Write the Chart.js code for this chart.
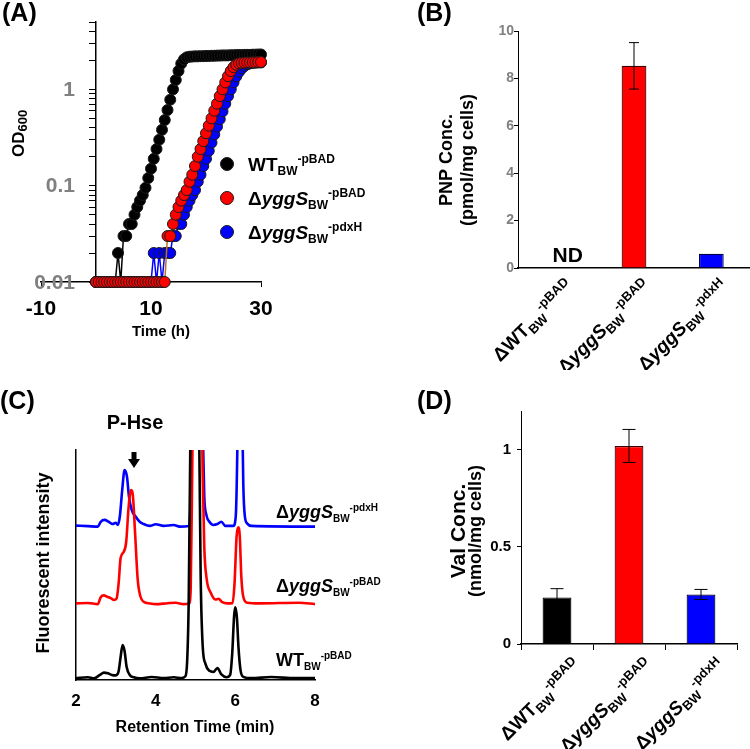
<!DOCTYPE html>
<html>
<head>
<meta charset="utf-8">
<title>Growth, PNP, P-Hse and Val</title>
<script src="https://cdn.jsdelivr.net/npm/chart.js@4.4.1/dist/chart.umd.min.js"></script>
<style>
  html, body { margin: 0; padding: 0; background: #fff; }
  #wrap { position: relative; width: 750px; height: 749px; overflow: hidden; }
  canvas { position: absolute; }
</style>
</head>
<body>
<div id="wrap">
  <canvas id="chartA" width="375" height="345" style="left:0;top:0"></canvas>
  <canvas id="chartB" width="375" height="370" style="left:375px;top:0"></canvas>
  <canvas id="chartC" width="390" height="379" style="left:0;top:370px"></canvas>
  <canvas id="chartD" width="375" height="379" style="left:375px;top:370px"></canvas>
</div>
<script>
const FONT = '"Liberation Sans", Arial, Helvetica, sans-serif';
const GREY = '#808080';

// strains (legend / categories)
const strainNames = ['WT', 'yggS', 'yggS'];
const strainPlasmids = ['-pBAD', '-pBAD', '-pdxH'];
const strainColors = ['#000000', '#ff0000', '#0000ff'];

// (A) growth curves, OD600 every 30 min
const growthTime = [0, 0.5, 1, 1.5, 2, 2.5, 3, 3.5, 4, 4.5, 5, 5.5, 6, 6.5, 7, 7.5, 8, 8.5, 9, 9.5,
  10, 10.5, 11, 11.5, 12, 12.5, 13, 13.5, 14, 14.5, 15, 15.5, 16, 16.5, 17, 17.5, 18, 18.5, 19, 19.5,
  20, 20.5, 21, 21.5, 22, 22.5, 23, 23.5, 24, 24.5, 25, 25.5, 26, 26.5, 27, 27.5, 28, 28.5, 29, 29.5, 30];
const odWT = [0.01, 0.01, 0.01, 0.01, 0.01, 0.01, 0.01, 0.01,
  0.02, 0.01, 0.03, 0.03, 0.04, 0.04, 0.05, 0.06, 0.07, 0.08,
  0.095, 0.12, 0.15, 0.19, 0.24, 0.3, 0.38, 0.48, 0.61, 0.78,
  1.0, 1.25, 1.55, 1.85, 2.05, 2.15, 2.18, 2.19, 2.2, 2.2,
  2.21, 2.21, 2.22, 2.22, 2.23, 2.23, 2.24, 2.24, 2.25, 2.25,
  2.25, 2.26, 2.26, 2.27, 2.27, 2.27, 2.28, 2.28, 2.28, 2.29,
  2.29, 2.3, 2.3];
const odYggS = [0.01, 0.01, 0.01, 0.01, 0.01, 0.01, 0.01, 0.01, 0.01, 0.01,
  0.01, 0.01, 0.01, 0.01, 0.01, 0.01, 0.01, 0.01, 0.01, 0.01,
  0.01, 0.01, 0.01, 0.01, 0.01, 0.01,
  0.03, 0.03, 0.04, 0.05, 0.06, 0.07, 0.08, 0.09, 0.11, 0.13,
  0.16, 0.2, 0.24, 0.29, 0.35, 0.42, 0.5, 0.6, 0.71, 0.85,
  1.0, 1.18, 1.37, 1.55, 1.7, 1.8, 1.86, 1.88, 1.89, 1.9,
  1.9, 1.91, 1.91, 1.92, 1.92];
const odYggSPdxH = [0.01, 0.01, 0.01, 0.01, 0.01, 0.01, 0.01, 0.01, 0.01, 0.01,
  0.01, 0.01, 0.01, 0.01, 0.01, 0.01, 0.01, 0.01, 0.01, 0.01, 0.01,
  0.02, 0.01, 0.02, 0.01, 0.02, 0.02, 0.02, 0.03, 0.03, 0.04,
  0.04, 0.05, 0.06, 0.07, 0.08, 0.09, 0.11, 0.13, 0.16, 0.19,
  0.23, 0.28, 0.34, 0.41, 0.49, 0.59, 0.71, 0.85, 1.0, 1.18,
  1.36, 1.52, 1.65, 1.75, 1.82, 1.86, 1.88, 1.89, 1.9, 1.9];
const odDecades = [0.01, 0.1, 1];
const odTickLabels = ['0.01', '0.1', '1'];
const odMultipliers = [1, 2, 3, 4, 5, 6, 7, 8, 9];
const odMax = 5;

// (B) PNP
const pnpValues = [null, 8.53, 0.6];
const pnpErrors = [null, 0.98, null];

// (C) chromatograms
const cTimeWT = [2.0, 2.3, 2.45, 2.6, 2.7, 2.8, 2.9, 3.0, 3.07, 3.12, 3.17, 3.22, 3.27, 3.35, 3.45, 3.6,
  3.9, 4.2, 4.45, 4.65, 4.74, 4.79, 4.83, 4.88, 4.95, 5.02, 5.08, 5.13, 5.18, 5.25, 5.35, 5.45,
  5.55, 5.65, 5.78, 5.87, 5.92, 5.97, 6.0, 6.04, 6.08, 6.13, 6.2, 6.4, 6.9, 7.5, 8.0];
const cWT = [0.8, 1.2, 0.7, 2.2, 3.2, 2.9, 2.2, 2.0, 3.8, 10, 15.2, 12.5, 5.8, 2.2, 1.2, 0.7,
  1.3, 0.8, 1.2, 0.8, 1.5, 8, 35, 120, 220, 220, 130, 45, 15, 7, 4, 3.5,
  5.2, 2.4, 1.2, 2.2, 11, 28, 31.6, 27, 14, 4.3, 1.4, 0.8, 1.3, 0.8, 0.8];
const cTimeYggS = [2.0, 2.3, 2.55, 2.62, 2.7, 2.78, 2.88, 2.95, 3.02, 3.07, 3.12, 3.2, 3.26, 3.32, 3.38, 3.43,
  3.48, 3.55, 3.62, 3.7, 3.85, 4.0, 4.3, 4.5, 4.7, 4.84, 4.88, 4.92, 4.98, 5.05, 5.12, 5.18,
  5.22, 5.28, 5.38, 5.5, 5.58, 5.66, 5.8, 5.93, 5.98, 6.03, 6.07, 6.11, 6.15, 6.2, 6.3, 6.6, 7.6, 8.0];
const cYggS = [33.3, 33.5, 33.0, 36.0, 36.8, 36.2, 35.5, 34.8, 35.5, 42, 53, 55.8, 60, 75, 82.6, 79.7,
  65, 43.5, 36.2, 34, 33.3, 33.0, 33.4, 33.6, 33.0, 33.3, 40, 95, 180, 200, 170, 90,
  58, 44, 38, 35, 35.3, 34, 33.3, 33.4, 42, 62, 66.4, 63, 45, 36.2, 33.6, 33.3, 33.6, 33.0];
const cTimePdxH = [2.0, 2.3, 2.55, 2.62, 2.72, 2.82, 2.92, 3.0, 3.05, 3.1, 3.16, 3.22, 3.28, 3.33, 3.4, 3.5,
  3.6, 3.7, 3.85, 4.0, 4.2, 4.45, 4.6, 4.84, 4.87, 4.9, 4.98, 5.05, 5.12, 5.18, 5.22, 5.27,
  5.35, 5.45, 5.55, 5.65, 5.75, 5.95, 6.01, 6.05, 6.09, 6.13, 6.17, 6.2, 6.24, 6.3, 6.4, 8.0];
const cPdxH = [67.1, 66.9, 66.7, 68.8, 69.6, 68.8, 67.8, 68.4, 67.4, 71, 82.6, 91.3, 88.4, 79.7, 73.9, 71,
  68.8, 67.8, 67, 67.7, 67, 67.4, 66.7, 67, 75, 110, 200, 220, 180, 110, 80, 72,
  68.8, 67.4, 67.8, 68.8, 67, 67, 71, 100, 160, 175, 120, 85, 71, 68, 67, 66.7];

// (D) Val
const valValues = [0.24, 1.02, 0.255];
const valErrors = [0.045, 0.085, 0.026];

// ---------- helpers ----------
function strainParts(delta, name, plasmid) {
  const parts = [];
  if (delta) parts.push({ text: '\u0394' });
  parts.push({ text: name, italic: name !== 'WT' });
  parts.push({ text: 'BW', shift: 'sub' });
  parts.push({ text: plasmid, shift: 'sup' });
  return parts;
}

function partFont(p, size, small) {
  return (p.italic ? 'italic ' : '') + 'bold ' + (p.shift ? small : size) + 'px ' + FONT;
}

function richWidth(ctx, parts, size, small) {
  let w = 0;
  parts.forEach(p => { ctx.font = partFont(p, size, small); w += ctx.measureText(p.text).width; });
  return w;
}

function drawRich(ctx, parts, x, y, size, small, align) {
  let cx = align === 'right' ? x - richWidth(ctx, parts, size, small) : x;
  ctx.textAlign = 'left';
  ctx.textBaseline = 'alphabetic';
  parts.forEach(p => {
    ctx.font = partFont(p, size, small);
    let dy = 0;
    if (p.shift === 'sub') dy = size * 0.22;
    if (p.shift === 'sup') dy = -size * 0.4;
    ctx.fillText(p.text, cx, y + dy);
    cx += ctx.measureText(p.text).width;
  });
}

function panelLetter(ctx, letter, x, y) {
  ctx.fillStyle = '#000';
  ctx.font = 'bold 25px ' + FONT;
  ctx.textAlign = 'left';
  ctx.textBaseline = 'alphabetic';
  ctx.fillText(letter, x, y);
}

function rotatedText(ctx, text, x, y, size) {
  ctx.save();
  ctx.translate(x, y);
  ctx.rotate(-Math.PI / 2);
  ctx.font = 'bold ' + size + 'px ' + FONT;
  ctx.textAlign = 'center';
  ctx.textBaseline = 'alphabetic';
  ctx.fillText(text, 0, 0);
  ctx.restore();
}

function fixSize(prop, size) {
  return scale => {
    scale[prop] = size;
    scale.paddingLeft = 0; scale.paddingRight = 0;
    scale.paddingTop = 0; scale.paddingBottom = 0;
  };
}

function errorBars(errors, cap) {
  return {
    id: 'errorBars',
    afterDatasetsDraw(chart) {
      const ctx = chart.ctx;
      const ys = chart.scales.y;
      const meta = chart.getDatasetMeta(0);
      const values = chart.data.datasets[0].data;
      ctx.save();
      ctx.strokeStyle = '#000';
      ctx.lineWidth = 1;
      errors.forEach((e, i) => {
        if (e == null || values[i] == null) return;
        const x = meta.data[i].x;
        const top = ys.getPixelForValue(values[i] + e);
        const bot = ys.getPixelForValue(values[i] - e);
        ctx.beginPath();
        ctx.moveTo(x, top); ctx.lineTo(x, bot);
        ctx.moveTo(x - cap, top); ctx.lineTo(x + cap, top);
        ctx.moveTo(x - cap, bot); ctx.lineTo(x + cap, bot);
        ctx.stroke();
      });
      ctx.restore();
    }
  };
}

function barLabels(chart, dx, dy, size, small) {
  const ctx = chart.ctx;
  const xs = chart.scales.x;
  const base = chart.chartArea.bottom;
  ctx.fillStyle = '#000';
  strainNames.forEach((name, i) => {
    ctx.save();
    ctx.translate(xs.getPixelForValue(i) + dx, base + dy);
    ctx.rotate(-Math.PI / 4);
    drawRich(ctx, strainParts(true, name, strainPlasmids[i]), 0, 0, size, small, 'right');
    ctx.restore();
  });
}

const noExtras = { legend: { display: false }, tooltip: { enabled: false } };

// ---------- (A) ----------
const odTicks = [];
odDecades.forEach(d => odMultipliers.forEach(m => {
  const v = +(d * m).toPrecision(3);
  if (v <= odMax) odTicks.push(v);
}));

const growthSets = [odWT, odYggS, odYggSPdxH];
const growthLines = ['#000000', '#b8702a', '#0000ff'];

new Chart(document.getElementById('chartA'), {
  type: 'line',
  data: {
    datasets: growthSets.map((set, i) => ({
      data: growthTime.map((t, k) => ({ x: t, y: set[k] })),
      borderColor: growthLines[i],
      borderWidth: 1.5,
      backgroundColor: strainColors[i],
      pointBackgroundColor: strainColors[i],
      pointBorderColor: '#1a1a1a',
      pointBorderWidth: 1,
      pointRadius: 5.5,
      tension: 0,
      clip: false,
      order: [2, 0, 1][i]
    }))
  },
  options: {
    responsive: false,
    animation: false,
    devicePixelRatio: 1,
    layout: { padding: { left: 41, right: 114, top: 22, bottom: 0 } },
    plugins: noExtras,
    scales: {
      x: {
        type: 'linear', min: -10, max: 30,
        afterFit: fixSize('height', 63),
        border: { color: '#000', width: 1.5 },
        grid: { drawOnChartArea: false, tickLength: 5, color: '#000' },
        ticks: { stepSize: 20, padding: 10, color: '#000', font: { family: FONT, size: 21, weight: 'bold' } }
      },
      y: {
        type: 'logarithmic', min: 0.01, max: odMax,
        position: { x: 0 },
        afterFit: fixSize('width', 10),
        afterBuildTicks: scale => { scale.ticks = odTicks.map(v => ({ value: v })); },
        border: { color: '#000', width: 1.5 },
        grid: { drawOnChartArea: false, tickLength: 6, color: '#000' },
        ticks: { display: false }
      }
    }
  },
  plugins: [{
    id: 'panelA',
    afterDraw(chart) {
      const ctx = chart.ctx;
      const xs = chart.scales.x;
      const ys = chart.scales.y;
      const axisX = xs.getPixelForValue(0);
      ctx.save();
      // log tick labels
      ctx.fillStyle = GREY;
      ctx.font = 'bold 21px ' + FONT;
      ctx.textAlign = 'right';
      ctx.textBaseline = 'middle';
      odDecades.forEach((v, i) => ctx.fillText(odTickLabels[i], axisX - 21, ys.getPixelForValue(v) + 1));
      // axis titles
      ctx.fillStyle = '#000';
      ctx.save();
      ctx.translate(19, 157);
      ctx.rotate(-Math.PI / 2);
      ctx.font = 'bold 17px ' + FONT;
      ctx.textAlign = 'left';
      ctx.fillText('OD', 0, 0);
      const w = ctx.measureText('OD').width;
      ctx.font = 'bold 13px ' + FONT;
      ctx.fillText('600', w, 4);
      ctx.restore();
      ctx.font = 'bold 15px ' + FONT;
      ctx.textAlign = 'center';
      ctx.textBaseline = 'alphabetic';
      ctx.fillText('Time (h)', 161, 336);
      // legend
      strainNames.forEach((name, i) => {
        const y = 164 + i * 34;
        ctx.beginPath();
        ctx.arc(227, y, 6.5, 0, Math.PI * 2);
        ctx.fillStyle = strainColors[i];
        ctx.fill();
        ctx.lineWidth = 1;
        ctx.strokeStyle = '#1a1a1a';
        ctx.stroke();
        ctx.fillStyle = '#000';
        drawRich(ctx, strainParts(i > 0, name, strainPlasmids[i]), 248, y + 7, 19, 12, 'left');
      });
      panelLetter(ctx, '(A)', 2, 21);
      ctx.restore();
    }
  }]
});

// ---------- (B) ----------
new Chart(document.getElementById('chartB'), {
  type: 'bar',
  data: {
    labels: strainNames.map((n, i) => '\u0394' + n + ' BW ' + strainPlasmids[i]),
    datasets: [{
      data: pnpValues,
      backgroundColor: strainColors,
      borderColor: ['#000', '#3a0000', '#00003a'],
      borderWidth: 1.2,
      barPercentage: 0.32,
      categoryPercentage: 1
    }]
  },
  options: {
    responsive: false,
    animation: false,
    devicePixelRatio: 1,
    layout: { padding: { left: 0, right: 0, top: 31, bottom: 0 } },
    plugins: noExtras,
    scales: {
      x: {
        afterFit: fixSize('height', 102),
        border: { color: '#000', width: 1.5 },
        grid: { display: false },
        ticks: { display: false }
      },
      y: {
        min: 0, max: 10,
        afterFit: fixSize('width', 143),
        border: { color: '#000', width: 1 },
        grid: { drawOnChartArea: false, tickLength: 4, color: '#000' },
        ticks: { stepSize: 2, padding: 0, color: GREY, font: { family: FONT, size: 14, weight: 'bold' } }
      }
    }
  },
  plugins: [errorBars(pnpErrors, 5), {
    id: 'panelB',
    afterDraw(chart) {
      const ctx = chart.ctx;
      const xs = chart.scales.x;
      ctx.save();
      ctx.fillStyle = '#000';
      rotatedText(ctx, 'PNP Conc.', 77, 160, 18);
      rotatedText(ctx, '(pmol/mg cells)', 98, 160, 18);
      ctx.font = 'bold 21px ' + FONT;
      ctx.textAlign = 'center';
      ctx.textBaseline = 'alphabetic';
      ctx.fillText('ND', xs.getPixelForValue(0) + 11, 262);
      barLabels(chart, 18, 20, 19, 13);
      panelLetter(ctx, '(B)', 42, 21);
      ctx.restore();
    }
  }]
});

// ---------- (C) ----------
const chromSets = [[cTimeWT, cWT], [cTimeYggS, cYggS], [cTimePdxH, cPdxH]];

new Chart(document.getElementById('chartC'), {
  type: 'line',
  data: {
    datasets: chromSets.map((pair, i) => ({
      data: pair[0].map((t, k) => ({ x: t, y: pair[1][k] })),
      borderColor: strainColors[i],
      borderWidth: 2.6,
      pointRadius: 0,
      cubicInterpolationMode: 'monotone'
    }))
  },
  options: {
    responsive: false,
    animation: false,
    devicePixelRatio: 1,
    layout: { padding: { left: 0, right: 75, top: 80, bottom: 0 } },
    plugins: noExtras,
    scales: {
      x: {
        type: 'linear', min: 2, max: 8,
        afterFit: fixSize('height', 69),
        border: { color: '#000', width: 1.5 },
        grid: { display: false, drawTicks: false },
        ticks: { stepSize: 2, padding: 11, color: '#000', font: { family: FONT, size: 17, weight: 'bold' } }
      },
      y: {
        type: 'linear', min: 0, max: 100,
        afterFit: fixSize('width', 76),
        border: { color: '#000', width: 1.5 },
        grid: { display: false, drawTicks: false },
        ticks: { display: false }
      }
    }
  },
  plugins: [{
    id: 'panelC',
    afterDraw(chart) {
      const ctx = chart.ctx;
      ctx.save();
      ctx.fillStyle = '#000';
      rotatedText(ctx, 'Fluorescent intensity', 49, 193, 18);
      ctx.font = 'bold 16px ' + FONT;
      ctx.textAlign = 'center';
      ctx.textBaseline = 'alphabetic';
      ctx.fillText('Retention Time (min)', 195, 362);
      ctx.font = 'bold 20px ' + FONT;
      ctx.fillText('P-Hse', 135, 59);
      // arrow
      ctx.fillRect(131.5, 82, 5, 9);
      ctx.beginPath();
      ctx.moveTo(128, 89); ctx.lineTo(140, 89); ctx.lineTo(134, 98);
      ctx.closePath();
      ctx.fill();
      // trace labels
      const baselines = [296, 222, 148];
      strainNames.forEach((name, i) => {
        drawRich(ctx, strainParts(i > 0, name, strainPlasmids[i]), 276, baselines[i], 18, 10, 'left');
      });
      panelLetter(ctx, '(C)', 0, 39);
      ctx.restore();
    }
  }]
});

// ---------- (D) ----------
new Chart(document.getElementById('chartD'), {
  type: 'bar',
  data: {
    labels: strainNames.map((n, i) => '\u0394' + n + ' BW ' + strainPlasmids[i]),
    datasets: [{
      data: valValues,
      backgroundColor: strainColors,
      borderColor: ['#000', '#3a0000', '#00003a'],
      borderWidth: 1.2,
      barPercentage: 0.4,
      categoryPercentage: 1
    }]
  },
  options: {
    responsive: false,
    animation: false,
    devicePixelRatio: 1,
    layout: { padding: { left: 0, right: 13, top: 41, bottom: 0 } },
    plugins: noExtras,
    scales: {
      x: {
        afterFit: fixSize('height', 105),
        border: { color: '#000', width: 1.5 },
        grid: { drawOnChartArea: false, tickLength: 6, color: '#000' },
        ticks: { display: false }
      },
      y: {
        min: 0, max: 1.2,
        afterFit: fixSize('width', 146),
        border: { color: '#000', width: 1 },
        grid: { drawOnChartArea: false, tickLength: 4, color: '#000' },
        ticks: {
          stepSize: 0.5, includeBounds: false, padding: 6, color: '#000',
          font: { family: FONT, size: 15, weight: 'bold' },
          callback: v => String(+v)
        }
      }
    }
  },
  plugins: [errorBars(valErrors, 6.5), {
    id: 'panelD',
    afterDraw(chart) {
      const ctx = chart.ctx;
      ctx.save();
      ctx.fillStyle = '#000';
      rotatedText(ctx, 'Val Conc.', 90, 161, 21);
      rotatedText(ctx, '(nmol/mg cells)', 106, 161, 18);
      barLabels(chart, 25, 23, 19, 13);
      panelLetter(ctx, '(D)', 42, 39);
      ctx.restore();
    }
  }]
});
</script>
</body>
</html>
